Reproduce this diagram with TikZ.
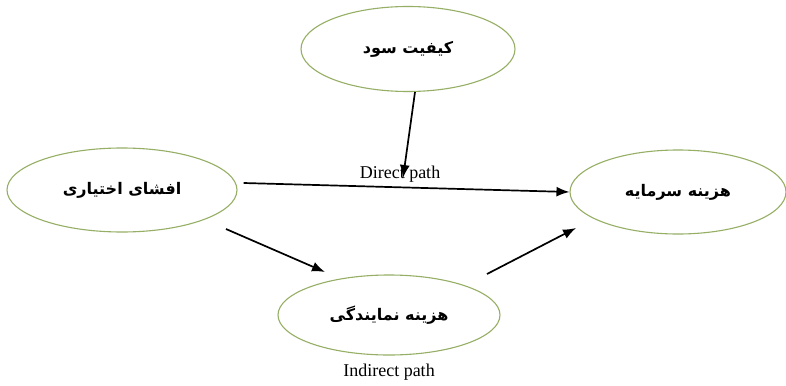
\documentclass[tikz,border=0pt]{standalone}
\usepackage{fontspec}
\setmainfont{Liberation Serif}
\newfontfamily\arabicfont[Script=Arabic]{DejaVu Sans}
\TeXXeTstate=1
\usetikzlibrary{shapes.geometric,arrows.meta}
\definecolor{elline}{RGB}{150,175,100}
\tikzset{
  oval/.style={ellipse, draw=elline, line width=1.1pt, inner sep=0pt, font=\arabicfont\bfseries\fontsize{16}{19}\selectfont},
  arr/.style={draw=black, line width=1.7pt, -{Latex[length=13pt,width=10pt]}},
  lbl/.style={font=\fontsize{18}{21}\selectfont, inner sep=0pt}
}
\begin{document}
\begin{tikzpicture}[x=1pt,y=-1pt]
\useasboundingbox[fill=white] (0,0) rectangle (786,385);
\node[oval, minimum width=214pt, minimum height=85pt] (q) at (408,49) {\beginR کیفیت سود\endR};
\node[oval, minimum width=230pt, minimum height=84pt] (d) at (122,190) {\beginR افشای اختیاری\endR};
\node[oval, minimum width=216pt, minimum height=84pt] (c) at (678,192) {\beginR هزینه سرمایه\endR};
\node[oval, minimum width=222pt, minimum height=80pt] (a) at (389,315) {\beginR هزینه نمایندگی\endR};
\node[lbl] (dlab) at (400,174) {Direct path};
\node[lbl] (ilab) at (389,372) {Indirect path};
\coordinate (tip) at (403,178);
\draw[arr] ([xshift=7pt]q.south) -- (tip);
\draw[arr] ([xshift=6pt,yshift=7pt]d.east) -- (c.west);
\draw[arr] ([xshift=104pt,yshift=-39pt]d.center) -- ([xshift=-64pt,yshift=43pt]a.center);
\draw[arr] ([xshift=98pt,yshift=41pt]a.center) -- ([xshift=-102pt,yshift=-36pt]c.center);
\end{tikzpicture}
\end{document}
